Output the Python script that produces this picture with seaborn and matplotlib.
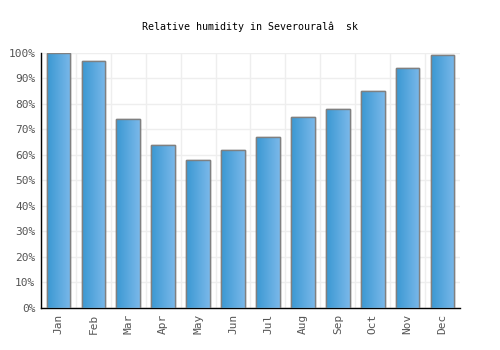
import numpy as np
import pandas as pd
import matplotlib
matplotlib.use("Agg")
import matplotlib.pyplot as plt
from matplotlib.colors import LinearSegmentedColormap
import seaborn as sns

# Data
months = ['Jan', 'Feb', 'Mar', 'Apr', 'May', 'Jun',
          'Jul', 'Aug', 'Sep', 'Oct', 'Nov', 'Dec']
humidity = [100, 97, 74, 64, 58, 62, 67, 75, 78, 85, 94, 99]
title = "Relative humidity in Severouralâ  sk"

df = pd.DataFrame({'Month': months, 'Humidity': humidity})

sns.set_style("white")
plt.rcParams['font.family'] = ['DejaVu Sans Mono']

fig = plt.figure(figsize=(5, 3.5), dpi=100)
ax = fig.add_axes([0.082, 0.12, 0.838, 0.729])

sns.barplot(data=df, x='Month', y='Humidity', ax=ax, width=0.68,
            color='#4fa3de', edgecolor='#808080', linewidth=1, zorder=3)

# Gradient fill clipped to each bar
grad = LinearSegmentedColormap.from_list('bar', ['#3a98d2', '#7ab8ea'])
gimg = np.linspace(0, 1, 64).reshape(1, -1)
for p in ax.patches:
    x0, y0 = p.get_x(), p.get_y()
    w, h = p.get_width(), p.get_height()
    im = ax.imshow(gimg, cmap=grad, aspect='auto', extent=[x0, x0 + w, y0, y0 + h],
                   zorder=3.5, interpolation='bilinear')
    im.set_clip_path(p)
    edge = plt.Rectangle((x0, y0), w, h, fill=False, edgecolor='#808080',
                         linewidth=1, zorder=4)
    ax.add_patch(edge)

ax.set_xlim(-0.5, len(months) - 0.5)
ax.set_ylim(0, 100)
ax.set_yticks(np.arange(0, 101, 10))
ax.set_yticklabels([f"{v}%" for v in range(0, 101, 10)])
ax.set_xticks(np.arange(len(months)))
ax.set_xticklabels(months, rotation=90)
ax.set_xticks(np.arange(len(months)) - 0.5, minor=True)

ax.grid(True, which='major', axis='y', color='#eeeeee', linewidth=1, zorder=0)
ax.grid(True, which='minor', axis='x', color='#eeeeee', linewidth=1, zorder=0)
ax.grid(False, which='major', axis='x')
ax.set_axisbelow(True)

ax.tick_params(axis='both', which='both', length=0, labelsize=8, labelcolor='#555555', pad=4)
ax.set_xlabel('')
ax.set_ylabel('')
sns.despine(ax=ax, top=True, right=True)
ax.spines['left'].set_color('black')
ax.spines['bottom'].set_color('black')
ax.spines['left'].set_linewidth(1)
ax.spines['bottom'].set_linewidth(1)

fig.text(0.5, 0.923, title, ha='center', va='center', fontsize=7.2, color='black')

plt.savefig('out.png', dpi=100)
